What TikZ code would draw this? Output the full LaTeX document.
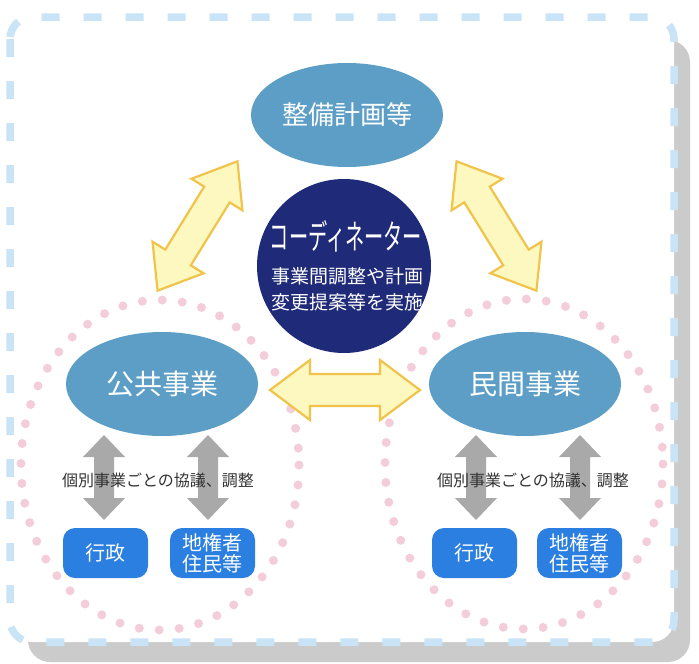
\documentclass[tikz,border=0pt]{standalone}
\usepackage{fontspec}
\usepackage{graphicx}
\newfontfamily\jp{Noto Sans CJK JP}
\definecolor{ellblue}{HTML}{5C9EC6}
\definecolor{navy}{HTML}{1F2A78}
\definecolor{boxblue}{HTML}{2B7FE0}
\definecolor{grayarr}{HTML}{A9A9A9}
\definecolor{yelfill}{HTML}{FDF7C0}
\definecolor{yeldraw}{HTML}{F0C44A}
\definecolor{pinkdot}{HTML}{F4CDDB}
\definecolor{framebl}{HTML}{C8E4F6}
\definecolor{shadowg}{HTML}{CBCBCB}
\definecolor{txtgray}{HTML}{333333}
\newcommand{\dblarr}[8]{%
  \begin{scope}[shift={(#1,#2)},rotate=#3]
    \path[#8] (-#4,0) -- (-#4+#7,#5) -- (-#4+#7,#6) -- (#4-#7,#6) -- (#4-#7,#5) -- (#4,0)
      -- (#4-#7,-#5) -- (#4-#7,-#6) -- (-#4+#7,-#6) -- (-#4+#7,-#5) -- cycle;
  \end{scope}}
\tikzset{
  bigell/.style={ellipse, fill=ellblue, text=white, minimum width=192pt, minimum height=104pt, inner sep=0pt},
  bluebox/.style={rectangle, rounded corners=12pt, fill=boxblue, text=white, minimum width=85pt, minimum height=50pt, inner sep=0pt, align=center, font=\jp\fontsize{20}{21}\selectfont},
  yarrow/.style={fill=yelfill, draw=yeldraw, line width=2.2pt, line join=miter},
  garrow/.style={fill=grayarr},
  pinkring/.style={draw=pinkdot, line width=9pt, line cap=round, dash pattern=on 0pt off 20pt},
  notetext/.style={text=txtgray, font=\jp\fontsize{16}{18}\selectfont, inner sep=0pt}
}
\usetikzlibrary{shapes.geometric}
\begin{document}
\begin{tikzpicture}[x=1pt,y=-1pt]
\useasboundingbox (0,0) rectangle (699,664);
% frame
\fill[shadowg, rounded corners=22pt] (28,40) rectangle (690,662);
\fill[white, rounded corners=22pt] (10,17) rectangle (674,642);
\draw[framebl, line width=7.5pt, rounded corners=22pt, dash pattern=on 18pt off 24pt] (10,17) rectangle (674,642);
% dotted rings
\draw[pinkring] (160,465) ellipse [x radius=139, y radius=165];
\draw[pinkring] (524,464) ellipse [x radius=139, y radius=165];
% yellow arrows
\dblarr{197.5}{226}{58.3}{76}{30}{15}{39}{yarrow}
\dblarr{496.5}{226}{-58.3}{76}{30}{15}{39}{yarrow}
\dblarr{345}{390}{0}{75}{30}{16}{40}{yarrow}
% gray arrows
\dblarr{104}{477.5}{90}{42.5}{21}{10}{22}{garrow}
\dblarr{208}{477.5}{90}{42.5}{21}{10}{22}{garrow}
\dblarr{476}{477.5}{90}{42.5}{21}{10}{22}{garrow}
\dblarr{580}{477.5}{90}{42.5}{21}{10}{22}{garrow}
% main nodes
\node[bigell, font=\jp\fontsize{26}{28}\selectfont] (plan) at (347,115) {整備計画等};
\node[bigell, font=\jp\fontsize{28}{30}\selectfont] (pub) at (162,384) {公共事業};
\node[bigell, font=\jp\fontsize{28}{30}\selectfont] (priv) at (525,384) {民間事業};
\node[circle, fill=navy, minimum size=174pt, inner sep=0pt] (coord) at (344,266) {};
\node[text=white, inner sep=0pt, font=\jp\fontsize{31}{32}\selectfont] (ctitle) at (346,236) {\scalebox{0.62}[1.1]{コーディネーター}};
\node[text=white, inner sep=0pt, align=center, font=\jp\fontsize{19}{26}\selectfont] (cdesc) at (347,289) {事業間調整や計画\\変更提案等を実施};
% notes
\node[notetext] (noteL) at (158,480) {個別事業ごとの協議、調整};
\node[notetext] (noteR) at (533,480) {個別事業ごとの協議、調整};
% boxes
\node[bluebox] (govL) at (105.5,553) {行政};
\node[bluebox] (landL) at (212.5,553) {地権者\\住民等};
\node[bluebox] (govR) at (474.5,553) {行政};
\node[bluebox] (landR) at (579.5,553) {地権者\\住民等};
\end{tikzpicture}
\end{document}
